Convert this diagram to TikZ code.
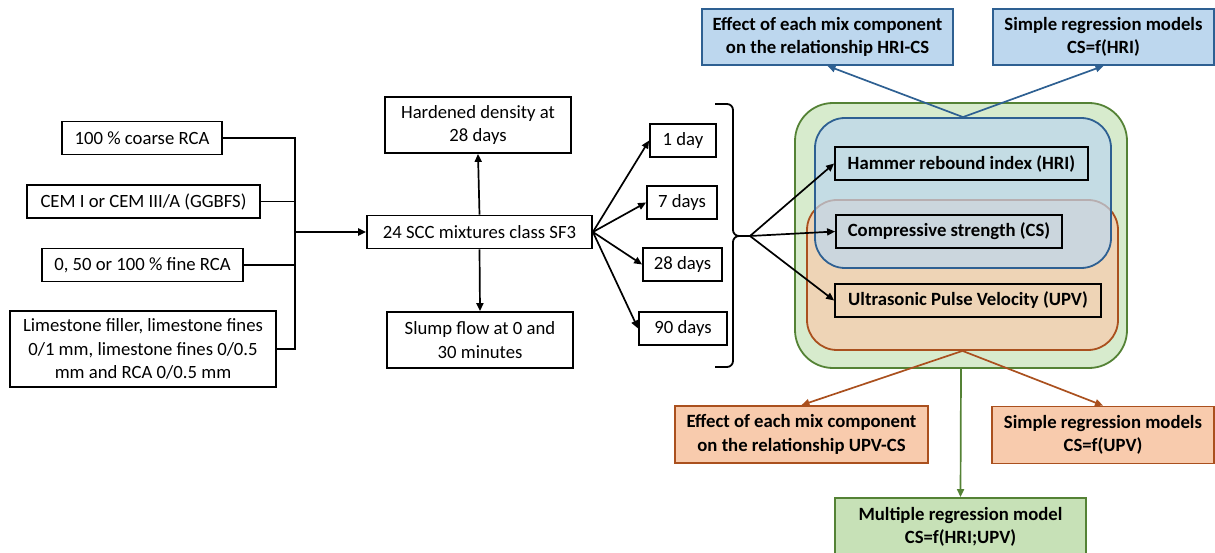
\documentclass[tikz,border=0pt]{standalone}
\usepackage{fontspec}
\setmainfont{Carlito}
\usetikzlibrary{arrows.meta}
\definecolor{bluefill}{RGB}{189,215,238}
\definecolor{blueline}{RGB}{46,96,146}
\definecolor{orangefill}{RGB}{248,203,173}
\definecolor{orangeline}{RGB}{170,80,30}
\definecolor{greenfill}{RGB}{215,235,205}
\definecolor{greenbox}{RGB}{199,225,183}
\definecolor{greenline}{RGB}{84,130,53}

\begin{document}
\begin{tikzpicture}[x=1pt,y=-1pt,font=\fontsize{18.7}{23.3}\selectfont,>={Triangle[length=8pt,width=7pt]}]
        \tikzstyle{every node}=[inner sep=0pt,align=center]
        \tikzstyle{box}=[draw,line width=1.8pt,minimum height=33pt]
        \tikzstyle{tallbox}=[draw,line width=1.8pt,minimum height=56pt]
        \tikzstyle{resbox}=[draw,line width=1.8pt,minimum height=56pt,font=\fontsize{18.7}{23.3}\selectfont\bfseries]
        \tikzstyle{zone}=[draw,line width=1.8pt,rounded corners=30pt]
        \tikzstyle{link}=[->,line width=1.7pt]
        \useasboundingbox (0,0) rectangle (1215,553);

            % inputs
            \node[box,minimum width=160pt] (coarse) at (142,138) {100 \% coarse RCA};
            \node[box,minimum width=233pt] (cem) at (143.5,201.5) {CEM I or CEM III/A (GGBFS)};
            \node[box,minimum width=201pt] (fine) at (142.5,265) {0, 50 or 100 \% fine RCA};
            \node[box,minimum width=266pt,minimum height=76pt] (lime) at (143,349) {Limestone filler, limestone fines\\0/1 mm, limestone fines 0/0.5\\mm and RCA 0/0.5 mm};
            \coordinate (j) at (295,232);

            % mixtures and fresh/hardened tests
            \node[box,minimum width=225pt] (scc) at (479.5,232) {24 SCC mixtures class SF3};
            \node[tallbox,minimum width=186pt] (dens) at (478,125) {Hardened density at\\28 days};
            \node[tallbox,minimum width=186pt] (slump) at (480,340) {Slump flow at 0 and\\30 minutes};

            % ages
            \node[box,minimum width=66pt] (d1) at (683,140.5) {1 day};
            \node[box,minimum width=70pt] (d7) at (682,202.5) {7 days};
            \node[box,minimum width=79pt] (d28) at (682.5,264.5) {28 days};
            \node[box,minimum width=88pt] (d90) at (683,328.5) {90 days};
            \coordinate (fan) at (750,236);

            % test zones
            \node[zone,draw=greenline,fill=greenfill,minimum width=332pt,minimum height=265pt,rounded corners=38pt] (all) at (961,235.5) {};
            \node[zone,draw=orangeline,fill=orangefill,fill opacity=0.7,minimum width=311pt,minimum height=150pt] (upvzone) at (962.5,275) {};
            \node[zone,draw=blueline,fill=bluefill,fill opacity=0.7,minimum width=296pt,minimum height=150pt] (hrizone) at (963,193) {};

            \node[box,minimum width=253pt,font=\fontsize{18.7}{23.3}\selectfont\bfseries] (hri) at (961.5,163.5) {Hammer rebound index (HRI)};
            \node[box,minimum width=226pt,font=\fontsize{18.7}{23.3}\selectfont\bfseries] (cs) at (949,231.5) {Compressive strength (CS)};
            \node[box,minimum width=266pt,font=\fontsize{18.7}{23.3}\selectfont\bfseries] (upv) at (968,300.5) {Ultrasonic Pulse Velocity (UPV)};

            % results
            \node[resbox,draw=blueline,fill=bluefill,minimum width=251pt] (hrieff) at (827.5,37) {Effect of each mix component\\on the relationship HRI-CS};
            \node[resbox,draw=blueline,fill=bluefill,minimum width=221pt] (hrireg) at (1103.5,37) {Simple regression models\\CS=f(HRI)};
            \node[resbox,draw=orangeline,fill=orangefill,minimum width=253pt,minimum height=57pt] (upveff) at (801.5,434.5) {Effect of each mix component\\on the relationship UPV-CS};
            \node[resbox,draw=orangeline,fill=orangefill,minimum width=222pt,minimum height=57pt] (upvreg) at (1103,435) {Simple regression models\\CS=f(UPV)};
            \node[resbox,draw=greenline,fill=greenbox,minimum width=251pt,minimum height=57pt] (multi) at (960.5,526.5) {Multiple regression model\\CS=f(HRI;UPV)};

            \draw[line width=1.8pt] (coarse.east) -| (j)
            (cem.east) -| (j)
            (fine.east) -| (j)
            (lime.east) -| (j)
            ;
            \draw[link,line width=2.4pt] (j) -- (scc.west);
            \draw[link] (scc.north) -- (dens.south);
            \draw[link] (scc.south) -- (slump.north);
            \draw[link] (scc.east) -- (d1.west);
            \draw[link] (scc.east) -- (d7.west);
            \draw[link] (scc.east) -- (d28.west);
            \draw[link] (scc.east) -- (d90.west);

            % bracket
            \draw[line width=1.8pt,rounded corners=6pt] (715,104) -- (733,104) -- (733,236) -- (fan);
            \draw[line width=1.8pt,rounded corners=6pt] (715,367) -- (733,367) -- (733,236) -- (fan);

            \draw[link] (fan) -- (hri.west);
            \draw[link] (fan) -- (cs.west);
            \draw[link] (fan) -- (upv.west);

            \draw[link,draw=blueline,fill=blueline] (hrizone.north) -- (hrieff.south);
            \draw[link,draw=blueline,fill=blueline] (hrizone.north) -- (hrireg.south);
            \draw[link,draw=orangeline,fill=orangeline] (upvzone.south) -- (upveff.north);
            \draw[link,draw=orangeline,fill=orangeline] (upvzone.south) -- (upvreg.north);
            \draw[link,draw=greenline,fill=greenline] (all.south) -- (multi.north);
        \end{tikzpicture}
\end{document}
